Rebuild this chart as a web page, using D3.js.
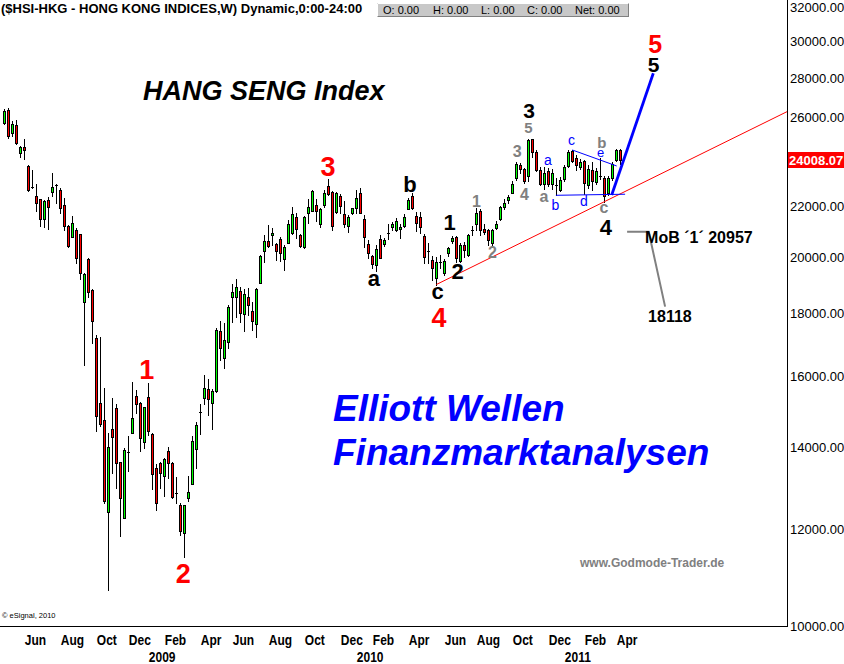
<!DOCTYPE html>
<html>
<head>
<meta charset="utf-8">
<script src="https://cdn.jsdelivr.net/npm/d3@7"></script>
<style>
  body { margin: 0; background: #fff; }
  svg { display: block; }
</style>
</head>
<body>
<div id="chart"></div>
<script>
// Weekly HSI candles, week of 2008-04-28 .. week of 2011-04-11
const opens = [
  25730,26380,25275,25645,24320,24590,23740,22840,22450,22300,21480,22270,22600,22910,22700,22050,21210,20790,21050,20880,
  18400,19930,18810,17170,15200,14730,12380,14475,15065,13600,12260,13870,14370,15410,15200,14120,15370,14340,13455,13580,
  13255,13895,13580,12830,12555,11915,12730,13050,13940,14960,15360,15620,15220,15560,17410,16540,17065,18570,18570,18755,
  17980,18570,18080,17645,19065,20250,20620,20845,20500,20690,19925,20555,20920,21585,20855,20380,21725,21830,22065,21280,
  22080,22865,22600,21775,22440,21685,21210,21725,21930,22550,21480,20495,20050,19710,20690,20505,20930,21170,21070,21100,
  21225,21915,22440,21620,21560,20830,20250,19900,19230,19820,19400,20170,20620,20790,19870,20470,20085,21000,21290,21830,
  21100,21050,20530,21150,21480,21970,22270,22580,23200,23790,23600,23300,24960,24390,23565,22950,23530,22950,22850,22700,
  23170,23750,24420,24080,23700,23950,22900,23560,23050,23300,23200,22560,23200,24000,24460
];
const highs = [
  26410,26460,25840,25890,24650,24980,23790,23565,22950,22300,22270,22410,23430,22950,22780,22360,21250,21625,21130,20890,
  19430,19970,18830,17280,17200,15630,14380,15340,15180,13600,13965,14290,15830,15580,15245,15105,15780,14370,13560,13600,
  13705,14010,13600,13240,12595,12555,13255,14290,14680,15180,16030,15920,15600,17500,17740,17660,18285,19020,19200,18900,
  18830,18890,18390,18890,20085,20855,21250,21130,20530,20790,20470,21450,21970,21720,20895,21630,22310,22695,22300,21950,
  22695,23155,22650,22610,22525,22240,21655,21960,22695,22780,21655,20660,20085,20470,20855,20730,21300,21380,21550,21270,
  21700,22340,22550,21790,21790,20900,20530,20050,20020,20100,19950,20400,20800,20820,20530,20600,20880,21200,21930,21900,
  21300,21080,21100,21400,22030,22300,22500,23100,23900,23860,23650,24990,24990,24450,23700,23700,23650,23600,23200,23250,
  23800,24470,24480,24250,24050,24000,23800,23900,23650,24100,23300,23300,23900,24520,24520
];
const lows = [
  25680,25010,25130,24760,24160,24070,22650,22800,21820,21210,21180,21080,22450,22160,21750,21050,20390,20760,19775,19210,
  16330,18570,17010,14430,14550,12600,10710,13325,12970,11850,12260,13390,14360,14915,13900,13965,14320,12940,12440,12955,
  12775,13215,12730,12600,11865,11380,12655,13050,13455,14340,15170,14870,14480,15520,16490,16230,16855,17720,17890,17720,
  17420,17945,17445,17230,19045,19835,20400,20470,19900,19870,19530,20540,20895,20730,20400,20360,21345,21810,21400,21185,
  22000,22470,21050,21745,21735,21170,20985,21700,21725,21725,20400,19990,19600,19500,19960,20410,20700,21050,21000,20730,
  21170,21900,21900,21010,20920,19790,19790,19165,19000,19600,19350,20050,20550,19830,19830,20020,20050,20850,21050,20850,
  20900,20470,20410,21100,21450,21900,22150,22550,23130,23450,22980,23100,24160,23520,22900,22750,22850,22730,22480,22650,
  23100,23700,23900,23550,23600,22520,22800,22700,22950,23150,22200,22500,23130,23950,23850
];
const closes = [
  26330,25130,25690,24810,24590,24470,22680,22830,22130,21500,22230,21970,22810,22900,21950,21220,20430,21320,19985,19430,
  19380,18750,17750,14850,14610,12655,13990,14270,13590,12730,13920,13860,14780,15170,14230,15090,14430,13300,12600,13325,
  13680,13595,12745,12810,11965,12555,12860,14160,14590,14940,15650,15310,15555,17440,16855,17120,18205,18720,18925,18000,
  18665,18285,17755,18845,20050,20620,20440,20945,20240,20170,20370,21290,21685,21080,20430,21585,21970,22650,21830,21885,
  22580,22540,21225,22550,22025,21290,21585,21930,22345,21740,20790,20170,19740,20300,19985,20660,20910,21280,21400,21180,
  21585,22275,21960,21320,21180,20020,20180,19590,19835,19790,19870,20340,20730,19960,20470,20275,20855,21050,21745,21050,
  20980,20660,21050,21280,21995,22160,22400,22940,23830,23600,23100,24930,24390,23565,22950,23420,22950,23420,22930,23130,
  23700,24380,23980,23790,23900,23000,23630,23080,23520,23250,22440,23200,23840,24470,24008.07
];
const lastPrice = 24008.07;

const yTicks = [10000,12000,14000,16000,18000,20000,22000,24000,26000,28000,30000,32000];

// Elliott wave labels: [text, bar index, price at baseline, colour, size, weight]
const waveLabels = [
  ['1', 35.6, 15909, '#ff0000', 27, 'bold'],
  ['2', 44.75, 10842, '#ff0000', 27, 'bold'],
  ['3', 80.9, 23300, '#ff0000', 27, 'bold'],
  ['4', 108.7, 17554, '#ff0000', 27, 'bold'],
  ['5', 162.7, 29362, '#ff0000', 25, 'bold'],
  ['5', 162.3, 28331, '#000000', 21, 'bold'],
  ['3', 131.2, 25984, '#000000', 21, 'bold'],
  ['4', 150.4, 20855, '#000000', 22, 'bold'],
  ['a', 92.4, 18948, '#000000', 22, 'bold'],
  ['b', 101.4, 22610, '#000000', 22, 'bold'],
  ['c', 108.3, 18491, '#000000', 22, 'bold'],
  ['1', 111.3, 21052, '#000000', 22, 'bold'],
  ['2', 113.3, 19200, '#000000', 22, 'bold'],
  ['5', 131.05, 25262, '#808080', 15, 'bold'],
  ['3', 128.2, 24148, '#808080', 16, 'bold'],
  ['4', 130.05, 22273, '#808080', 16, 'bold'],
  ['1', 118.05, 21980, '#808080', 16, 'bold'],
  ['2', 122.05, 19974, '#808080', 16, 'bold'],
  ['a', 134.9, 22190, '#808080', 16, 'bold'],
  ['b', 149.4, 24560, '#808080', 15, 'bold'],
  ['c', 149.9, 21735, '#808080', 16, 'bold'],
  ['a', 135.9, 23787, '#0000ff', 14, 'normal'],
  ['b', 137.8, 21858, '#0000ff', 14, 'normal'],
  ['c', 141.8, 24699, '#0000ff', 14, 'normal'],
  ['d', 144.9, 22023, '#0000ff', 14, 'normal'],
  ['e', 149.05, 24148, '#0000ff', 13, 'normal'],
];

// lines in [bar index, price]
const trendAnchors = [[108, 19000], [150, 22200]];
const triangleLower = [[137.9, 22470], [155.2, 22515]];
const triangleUpper = [[142, 24468], [153.1, 23742]];
const projection = [[151.85, 22483], [162.25, 28262]];
const mobLine = [[155.7, 20985], [161.1, 20985], [165.2, 18226]];
const mobText = ['MoB \u00b41\u00b4 20957', 160.2, 20545];
const targetText = ['18118', 166.4, 17710];

const W = 844, H = 664;
const axisX = 787, axisY = 626;
const FONT = "'Liberation Sans', Arial, sans-serif";

const weeks = d3.timeMonday.range(new Date(2008, 3, 28), new Date(2011, 3, 12));
const n = closes.length;

const x = d3.scaleLinear().domain([0, n - 1]).range([4.3, 620.3]);
const y = d3.scaleLog().domain([10000, 32000]).range([axisY, 7.2]);

const svg = d3.select('#chart').append('svg')
  .attr('width', W).attr('height', H)
  .attr('viewBox', `0 0 ${W} ${H}`);

svg.append('rect').attr('width', W).attr('height', H).attr('fill', '#fff');

// header
svg.append('text')
  .attr('x', 1).attr('y', 13)
  .attr('font-family', FONT).attr('font-size', 13).attr('font-weight', 'bold')
  .text('($HSI-HKG - HONG KONG INDICES,W) Dynamic,0:00-24:00');

const box = svg.append('g');
box.append('rect').attr('x', 377.5).attr('y', 3.5).attr('width', 251).attr('height', 13)
  .attr('fill', '#c8c8c8').attr('stroke', '#808080');
box.append('path').attr('d', 'M377.5,16.5V3.5H628.5').attr('fill', 'none').attr('stroke', '#fff');
[['O:', 383], ['H:', 433], ['L:', 481], ['C:', 527], ['Net:', 575]].forEach(([k, px]) => {
  box.append('text').attr('x', px).attr('y', 14)
    .attr('font-family', FONT).attr('font-size', 11)
    .text(k + ' 0.00');
});

// plot frame
svg.append('line').attr('x1', axisX + 0.5).attr('x2', axisX + 0.5).attr('y1', 0).attr('y2', axisY + 1)
  .attr('stroke', '#000');
svg.append('line').attr('x1', 0).attr('x2', axisX + 1).attr('y1', axisY + 0.5).attr('y2', axisY + 0.5)
  .attr('stroke', '#000');

// y axis
const yAxis = svg.append('g')
  .attr('transform', `translate(${axisX},0)`)
  .call(d3.axisRight(y).tickValues(yTicks).tickFormat(d3.format('.2f')).tickSize(0).tickPadding(3));
yAxis.select('.domain').remove();
yAxis.selectAll('text').attr('font-family', FONT).attr('font-size', 13).attr('fill', '#000');

// x axis: every second month at the first weekly bar of that month, years at January
const monthIdx = [], yearIdx = [];
weeks.forEach((d, i) => {
  const prev = i > 0 ? weeks[i - 1] : null;
  if (prev && prev.getMonth() !== d.getMonth() && d.getMonth() % 2 === 1) monthIdx.push(i);
  if (prev && prev.getFullYear() !== d.getFullYear()) yearIdx.push(i);
});
const fmtMonth = d3.timeFormat('%b'), fmtYear = d3.timeFormat('%Y');

function styleTimeAxis(g) {
  g.select('.domain').remove();
  g.selectAll('text')
    .attr('font-family', FONT).attr('font-size', 15).attr('font-weight', 'bold')
    .attr('text-anchor', 'start').attr('fill', '#000')
    .attr('transform', 'scale(0.8,1)');
}

svg.append('g')
  .attr('transform', `translate(0,${axisY})`)
  .call(d3.axisBottom(x).tickValues(monthIdx).tickFormat(i => fmtMonth(weeks[i])).tickSize(0).tickPadding(8))
  .call(styleTimeAxis);

svg.append('g')
  .attr('transform', `translate(0,${axisY + 17})`)
  .call(d3.axisBottom(x).tickValues(yearIdx).tickFormat(i => fmtYear(weeks[i])).tickSize(0).tickPadding(8))
  .call(styleTimeAxis);

// watermark texts
svg.append('text').attr('x', 143).attr('y', 100)
  .attr('font-family', FONT).attr('font-size', 27).attr('font-weight', 'bold').attr('font-style', 'italic')
  .text('HANG SENG Index');
svg.append('text').attr('x', 333).attr('y', 421)
  .attr('font-family', FONT).attr('font-size', 37).attr('font-weight', 'bold').attr('font-style', 'italic')
  .attr('fill', '#0000ff').text('Elliott Wellen');
svg.append('text').attr('x', 333).attr('y', 465)
  .attr('font-family', FONT).attr('font-size', 37).attr('font-weight', 'bold').attr('font-style', 'italic')
  .attr('fill', '#0000ff').text('Finanzmarktanalysen');
svg.append('text').attr('x', 580).attr('y', 567)
  .attr('font-family', FONT).attr('font-size', 12).attr('font-weight', 'bold')
  .attr('fill', '#808080').text('www.Godmode-Trader.de');
svg.append('text').attr('x', 2).attr('y', 618)
  .attr('font-family', FONT).attr('font-size', 7.5)
  .text('\u00a9 eSignal, 2010');

// candles
const plot = svg.append('g');
const candles = plot.selectAll('g.candle').data(d3.range(n)).enter().append('g').attr('class', 'candle');

candles.append('line')
  .attr('x1', i => Math.round(x(i)) + 0.5).attr('x2', i => Math.round(x(i)) + 0.5)
  .attr('y1', i => Math.round(y(highs[i]))).attr('y2', i => Math.round(y(lows[i])) + 1)
  .attr('stroke', '#000').attr('stroke-width', 1);

candles.each(function (i) {
  const g = d3.select(this);
  const px = Math.round(x(i));
  const top = Math.round(y(Math.max(opens[i], closes[i])));
  const bot = Math.round(y(Math.min(opens[i], closes[i])));
  if (bot - top < 2) {
    g.append('line').attr('x1', px - 1).attr('x2', px + 2)
      .attr('y1', top + 0.5).attr('y2', top + 0.5).attr('stroke', '#000');
  } else {
    g.append('rect')
      .attr('x', px - 0.5).attr('y', top + 0.5)
      .attr('width', 2).attr('height', bot - top)
      .attr('fill', closes[i] >= opens[i] ? '#00ff00' : '#ff0000')
      .attr('stroke', '#000').attr('stroke-width', 1);
  }
});

// lines
const pt = d => [x(d[0]), y(d[1])];
const lineGen = d3.line().x(d => x(d[0])).y(d => y(d[1]));

// red trend line, extended to the price axis
const [ta, tb] = trendAnchors.map(pt);
const slope = (tb[1] - ta[1]) / (tb[0] - ta[0]);
svg.append('line')
  .attr('x1', ta[0]).attr('y1', ta[1])
  .attr('x2', axisX).attr('y2', ta[1] + slope * (axisX - ta[0]))
  .attr('stroke', '#ff0000').attr('stroke-width', 1);

svg.append('path').attr('d', lineGen(triangleLower)).attr('fill', 'none').attr('stroke', '#0000ff').attr('stroke-width', 1);
svg.append('path').attr('d', lineGen(triangleUpper)).attr('fill', 'none').attr('stroke', '#0000ff').attr('stroke-width', 1);
svg.append('path').attr('d', lineGen(projection)).attr('fill', 'none').attr('stroke', '#0000ff').attr('stroke-width', 2.8);
svg.append('path').attr('d', lineGen(mobLine)).attr('fill', 'none').attr('stroke', '#808080').attr('stroke-width', 2);

// wave labels
svg.append('g').selectAll('text').data(waveLabels).enter().append('text')
  .attr('x', d => x(d[1])).attr('y', d => y(d[2]))
  .attr('text-anchor', 'middle')
  .attr('font-family', FONT)
  .attr('font-size', d => d[4]).attr('font-weight', d => d[5])
  .attr('fill', d => d[3])
  .text(d => d[0]);

svg.append('text').attr('x', x(mobText[1])).attr('y', y(mobText[2]))
  .attr('font-family', FONT).attr('font-size', 16).attr('font-weight', 'bold').text(mobText[0]);
svg.append('text').attr('x', x(targetText[1])).attr('y', y(targetText[2]))
  .attr('text-anchor', 'middle')
  .attr('font-family', FONT).attr('font-size', 16).attr('font-weight', 'bold').text(targetText[0]);

// last price marker
const ly = y(lastPrice);
svg.append('rect').attr('x', axisX + 1).attr('y', Math.round(ly) - 8).attr('width', W - axisX - 1).attr('height', 16)
  .attr('fill', '#ff0000');
svg.append('text').attr('x', axisX + 2).attr('y', Math.round(ly) + 5)
  .attr('font-family', FONT).attr('font-size', 13).attr('font-weight', 'bold').attr('fill', '#fff')
  .text(d3.format('.2f')(lastPrice));
</script>
</body>
</html>
